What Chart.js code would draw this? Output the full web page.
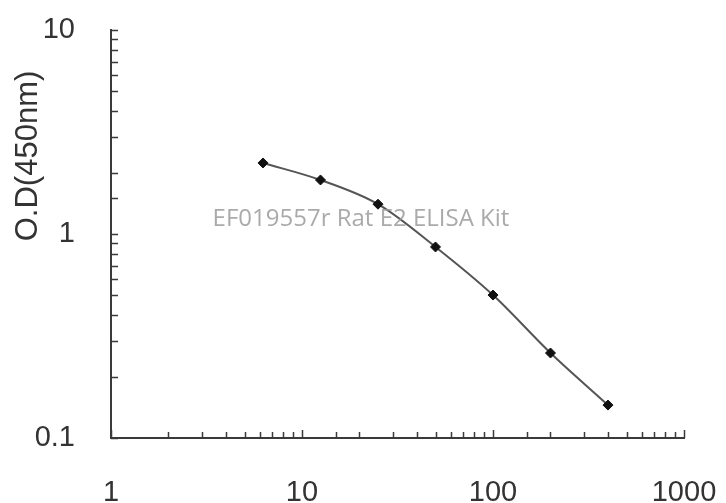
<!DOCTYPE html>
<html>
<head>
<meta charset="utf-8">
<script src="https://cdn.jsdelivr.net/npm/chart.js@4/dist/chart.umd.min.js"></script>
<style>
  html, body { margin: 0; padding: 0; background: #fff; }
  #wrap { width: 726px; height: 503px; }
</style>
</head>
<body>
<div id="wrap"><canvas id="elisa-chart"></canvas></div>
<script>
// standard curve values
const concentrations = [6.25, 12.5, 25, 50, 100, 200, 400];
const odValues = [2.23, 1.84, 1.40, 0.864, 0.502, 0.261, 0.145];
const xTickLabels = ['1', '10', '100', '1000'];
const yTickLabels = ['0.1', '1', '10'];
const yTitle = 'O.D(450nm)';
const watermark = 'EF019557r Rat E2 ELISA Kit';

const axisColor = '#3a3a3a';
const tickFont = { family: 'Liberation Sans, Arial', size: 29 };

function isDecade(v) {
  const l = Math.log10(v);
  return Math.abs(l - Math.round(l)) < 1e-9;
}

// short tick marks pointing into the plot area
const innerTicks = {
  id: 'innerTicks',
  afterDraw(chart) {
    const ctx = chart.ctx;
    const area = chart.chartArea;
    const xs = chart.scales.x, ys = chart.scales.y;
    ctx.save();
    ctx.strokeStyle = axisColor;
    ctx.lineWidth = 1.5;
    ctx.beginPath();
    xs.ticks.forEach(t => {
      const px = Math.round(xs.getPixelForValue(t.value)) + 0.5;
      const len = isDecade(t.value) ? 8 : 6;
      ctx.moveTo(px, area.bottom);
      ctx.lineTo(px, area.bottom - len);
    });
    ys.ticks.forEach(t => {
      const py = Math.round(ys.getPixelForValue(t.value)) + 0.5;
      ctx.moveTo(area.left, py);
      ctx.lineTo(area.left + 7, py);
    });
    ctx.stroke();

    // y axis title, sits higher than the middle of the axis
    ctx.fillStyle = '#333';
    ctx.font = '31px "Liberation Sans", Arial';
    ctx.textAlign = 'center';
    ctx.textBaseline = 'middle';
    ctx.translate(28, 156);
    ctx.rotate(-Math.PI / 2);
    ctx.fillText(yTitle, 0, 0);
    ctx.restore();

    ctx.save();
    ctx.fillStyle = 'rgba(155,155,155,0.85)';
    ctx.font = '24px "Open Sans", "Noto Sans", sans-serif';
    ctx.textAlign = 'center';
    ctx.textBaseline = 'middle';
    ctx.fillText(watermark, 361, 219);
    ctx.restore();
  }
};

new Chart(document.getElementById('elisa-chart'), {
  type: 'line',
  data: {
    datasets: [{
      data: concentrations.map((c, i) => ({ x: c, y: odValues[i] })),
      borderColor: '#555',
      borderWidth: 2,
      cubicInterpolationMode: 'monotone',
      pointStyle: 'rectRot',
      pointRadius: 5,
      pointBackgroundColor: '#111',
      pointBorderColor: '#111',
      pointBorderWidth: 1
    }]
  },
  options: {
    responsive: true,
    maintainAspectRatio: false,
    animation: false,
    layout: { padding: { top: 30, right: 42, left: 0, bottom: 0 } },
    plugins: { legend: { display: false }, tooltip: { enabled: false } },
    scales: {
      x: {
        type: 'logarithmic',
        min: 1,
        max: 1000,
        grid: { display: true, drawOnChartArea: false, drawTicks: false },
        border: { display: true, color: axisColor, width: 2 },
        afterFit(scale) {
          scale.height = 65;
          scale.paddingLeft = 0;
          scale.paddingRight = 0;
        },
        ticks: {
          autoSkip: false,
          maxRotation: 0,
          padding: 38,
          color: '#333',
          font: tickFont,
          callback: v => isDecade(v) ? xTickLabels[Math.round(Math.log10(v))] : ''
        }
      },
      y: {
        type: 'logarithmic',
        min: 0.1,
        max: 10,
        grid: { display: true, drawOnChartArea: false, drawTicks: false },
        border: { display: true, color: axisColor, width: 2 },
        afterFit(scale) {
          scale.width = 111;
          scale.paddingTop = 0;
          scale.paddingBottom = 0;
        },
        ticks: {
          autoSkip: false,
          padding: 36,
          color: '#333',
          font: tickFont,
          callback: v => isDecade(v) ? yTickLabels[Math.round(Math.log10(v)) + 1] : ''
        }
      }
    }
  },
  plugins: [innerTicks]
});
</script>
</body>
</html>
